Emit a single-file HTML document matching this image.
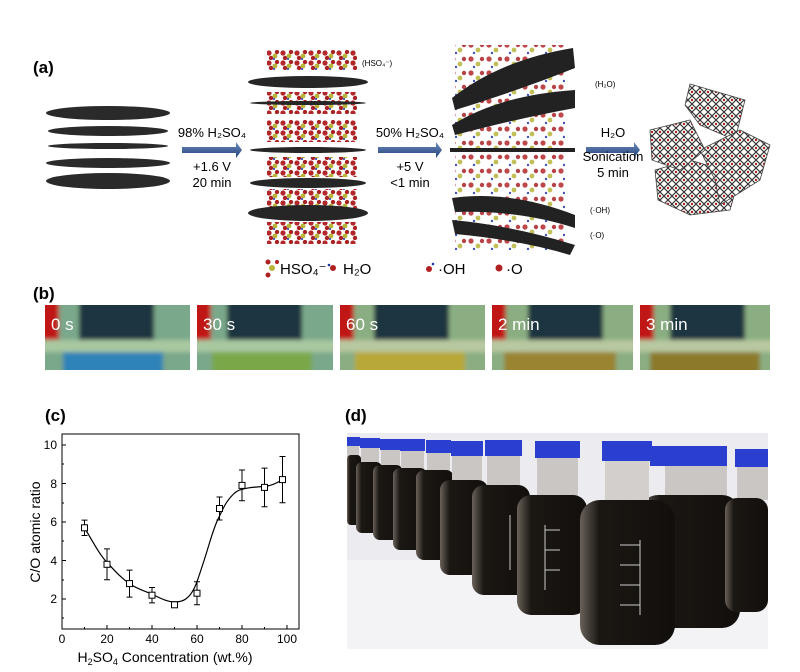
<!DOCTYPE html>
<html><head><meta charset="utf-8"><style>
body{margin:0;background:#fff;}
svg{display:block;font-family:"Liberation Sans",Arial,sans-serif;}
</style></head><body>
<svg width="800" height="672" viewBox="0 0 800 672" xmlns="http://www.w3.org/2000/svg">
<defs>
<pattern id="mol" width="14" height="10" patternUnits="userSpaceOnUse">
<circle cx="3" cy="3" r="2.6" fill="#b3262a"/><circle cx="9" cy="6" r="2.4" fill="#b8b43a"/><circle cx="11" cy="2" r="2.2" fill="#a82226"/><circle cx="5" cy="8" r="2.2" fill="#a82226"/><circle cx="8" cy="9" r="1" fill="#2233aa"/>
</pattern>
<pattern id="mol2" width="18" height="14" patternUnits="userSpaceOnUse">
<circle cx="3" cy="3" r="2.6" fill="#b3262a"/><circle cx="10" cy="8" r="2.4" fill="#b8b43a"/><circle cx="14" cy="3" r="2.2" fill="#a82226"/><circle cx="6" cy="11" r="1.2" fill="#2233aa"/>
</pattern>
<pattern id="hex" width="8" height="8" patternUnits="userSpaceOnUse">
<rect width="8" height="8" fill="#fff"/><path d="M0 4 L4 0 L8 4 L4 8Z" fill="none" stroke="#333" stroke-width="1.2"/><circle cx="4" cy="4" r="1.2" fill="#b02020"/>
</pattern>
<linearGradient id="arr" x1="0" y1="0" x2="0" y2="1"><stop offset="0" stop-color="#6f8fc0"/><stop offset="1" stop-color="#1f3f78"/></linearGradient>
<filter id="blur"><feGaussianBlur stdDeviation="2"/></filter>
<linearGradient id="glass" x1="0" y1="0" x2="1" y2="0"><stop offset="0" stop-color="#6a625a"/><stop offset="0.2" stop-color="#1b1713"/><stop offset="1" stop-color="#120f0c"/></linearGradient>
</defs>

<!-- (a) -->
<text x="33" y="73" font-size="17" font-weight="bold">(a)</text>
<g fill="#2a2a2a">
<ellipse cx="108" cy="113" rx="62" ry="7"/>
<ellipse cx="108" cy="131" rx="60" ry="5"/>
<ellipse cx="108" cy="146" rx="60" ry="3"/>
<ellipse cx="108" cy="163" rx="62" ry="5"/>
<ellipse cx="108" cy="181" rx="62" ry="8"/>
</g>
<path d="M182 147 H236 V142 L242 150 L236 158 V153 H182Z" fill="url(#arr)"/>
<text x="212" y="137" font-size="13" text-anchor="middle">98% H₂SO₄</text>
<text x="212" y="171" font-size="13" text-anchor="middle">+1.6 V</text>
<text x="212" y="187" font-size="13" text-anchor="middle">20 min</text>
<rect x="267" y="50" width="90" height="20" fill="url(#mol)"/>
<rect x="267" y="92" width="90" height="22" fill="url(#mol)"/>
<rect x="267" y="120" width="90" height="22" fill="url(#mol)"/>
<rect x="267" y="157" width="90" height="20" fill="url(#mol)"/>
<rect x="267" y="189" width="90" height="20" fill="url(#mol)"/>
<rect x="267" y="222" width="90" height="22" fill="url(#mol)"/>
<g fill="#262626">
<ellipse cx="308" cy="82" rx="60" ry="6"/>
<ellipse cx="308" cy="103" rx="58" ry="2"/>
<ellipse cx="308" cy="150" rx="58" ry="3"/>
<ellipse cx="308" cy="183" rx="58" ry="5"/>
<ellipse cx="308" cy="213" rx="60" ry="8"/>
</g>
<text x="362" y="66" font-size="8">(HSO₄⁻)</text>
<path d="M378 147 H436 V142 L442 150 L436 158 V153 H378Z" fill="url(#arr)"/>
<text x="410" y="137" font-size="13" text-anchor="middle">50% H₂SO₄</text>
<text x="410" y="171" font-size="13" text-anchor="middle">+5 V</text>
<text x="410" y="187" font-size="13" text-anchor="middle">&lt;1 min</text>
<rect x="455" y="45" width="110" height="205" fill="url(#mol2)" opacity="0.85"/>
<g fill="#222">
<path d="M452 98 Q500 60 573 48 L575 68 Q520 90 455 110Z"/>
<path d="M452 125 Q500 95 575 90 L575 108 Q520 118 455 135Z"/>
<rect x="450" y="148" width="125" height="4"/>
<path d="M452 198 Q510 190 575 215 L575 228 Q520 210 455 212Z"/>
<path d="M452 220 Q510 225 575 245 L570 255 Q520 240 455 234Z"/>
</g>
<text x="595" y="87" font-size="8">(H₂O)</text>
<text x="590" y="213" font-size="8">(·OH)</text>
<text x="590" y="238" font-size="8">(·O)</text>
<path d="M586 147 H634 V142 L640 150 L634 158 V153 H586Z" fill="url(#arr)"/>
<text x="613" y="137" font-size="13" text-anchor="middle">H₂O</text>
<text x="613" y="161" font-size="13" text-anchor="middle">Sonication</text>
<text x="613" y="177" font-size="13" text-anchor="middle">5 min</text>
<g fill="url(#hex)" stroke="#444" stroke-width="0.8">
<path d="M690 84 L745 100 L735 140 L700 125 L685 105Z"/>
<path d="M655 170 L690 160 L740 175 L730 210 L690 215 L658 200Z"/>
<path d="M700 150 L740 130 L770 145 L760 180 L720 205 L715 180Z"/>
<path d="M650 130 L690 120 L705 150 L680 170 L652 160Z"/>
</g>
<circle cx="272" cy="268" r="3" fill="#b8b43a"/><circle cx="268" cy="262" r="2.5" fill="#b02020"/><circle cx="268" cy="275" r="2.5" fill="#b02020"/><circle cx="277" cy="262" r="2" fill="#b02020"/>
<text x="280" y="274" font-size="15">HSO₄⁻</text>
<circle cx="333" cy="268" r="3" fill="#b02020"/><circle cx="329" cy="265" r="1.3" fill="#2233aa"/>
<text x="343" y="274" font-size="15">H₂O</text>
<circle cx="429" cy="269" r="3" fill="#b02020"/><circle cx="433" cy="264" r="1.3" fill="#2233aa"/>
<text x="438" y="274" font-size="15">·OH</text>
<circle cx="499" cy="268" r="3.5" fill="#b02020"/>
<text x="506" y="274" font-size="15">·O</text>

<!-- (b) -->
<text x="33" y="299" font-size="17" font-weight="bold">(b)</text>
<g>
<g transform="translate(45,305)"><svg width="145" height="65"><g filter="url(#blur)"><rect x="-5" y="-5" width="155" height="75" fill="#7aa88a"/><rect x="-5" y="-5" width="19" height="43" fill="#c01818"/><rect x="34" y="-5" width="75" height="40" fill="#1f3440"/><rect x="-5" y="35" width="155" height="12" fill="#a8c8a0"/><rect x="18" y="47" width="100" height="25" fill="#2f83b8"/></g></svg><text x="6" y="25" font-size="17" fill="#fff">0 s</text></g>
<g transform="translate(197,305)"><svg width="136" height="65"><g filter="url(#blur)"><rect x="-5" y="-5" width="146" height="75" fill="#7aa88a"/><rect x="-5" y="-5" width="19" height="43" fill="#c01818"/><rect x="30" y="-5" width="75" height="40" fill="#1f3440"/><rect x="-5" y="35" width="146" height="12" fill="#a8c8a0"/><rect x="15" y="47" width="100" height="25" fill="#7aa848"/></g></svg><text x="6" y="25" font-size="17" fill="#fff">30 s</text></g>
<g transform="translate(340,305)"><svg width="145" height="65"><g filter="url(#blur)"><rect x="-5" y="-5" width="155" height="75" fill="#8aae82"/><rect x="-5" y="-5" width="19" height="43" fill="#c01818"/><rect x="34" y="-5" width="75" height="40" fill="#1f3440"/><rect x="-5" y="35" width="155" height="12" fill="#b8c8a0"/><rect x="15" y="47" width="110" height="25" fill="#b8a838"/></g></svg><text x="6" y="25" font-size="17" fill="#fff">60 s</text></g>
<g transform="translate(492,305)"><svg width="141" height="65"><g filter="url(#blur)"><rect x="-5" y="-5" width="151" height="75" fill="#8aae82"/><rect x="-5" y="-5" width="19" height="43" fill="#c01818"/><rect x="36" y="-5" width="75" height="40" fill="#1f3440"/><rect x="-5" y="35" width="151" height="12" fill="#b8c8a0"/><rect x="12" y="47" width="112" height="25" fill="#9a8430"/></g></svg><text x="6" y="25" font-size="17" fill="#fff">2 min</text></g>
<g transform="translate(640,305)"><svg width="130" height="65"><g filter="url(#blur)"><rect x="-5" y="-5" width="140" height="75" fill="#8aae82"/><rect x="-5" y="-5" width="19" height="43" fill="#c01818"/><rect x="30" y="-5" width="75" height="40" fill="#1f3440"/><rect x="-5" y="35" width="140" height="12" fill="#b8c8a0"/><rect x="10" y="47" width="110" height="25" fill="#8c7a2c"/></g></svg><text x="6" y="25" font-size="17" fill="#fff">3 min</text></g>
</g>

<!-- (c) -->
<text x="45" y="421" font-size="17" font-weight="bold">(c)</text>
<rect x="62" y="434" width="237" height="195" fill="none" stroke="#000" stroke-width="1"/>
<g stroke="#000" stroke-width="1">
<line x1="62" y1="629" x2="62" y2="625"/><line x1="107" y1="629" x2="107" y2="625"/><line x1="152" y1="629" x2="152" y2="625"/><line x1="197" y1="629" x2="197" y2="625"/><line x1="242" y1="629" x2="242" y2="625"/><line x1="287" y1="629" x2="287" y2="625"/>
<line x1="84.5" y1="629" x2="84.5" y2="627"/><line x1="129.5" y1="629" x2="129.5" y2="627"/><line x1="174.5" y1="629" x2="174.5" y2="627"/><line x1="219.5" y1="629" x2="219.5" y2="627"/><line x1="264.5" y1="629" x2="264.5" y2="627"/>
<line x1="62" y1="599" x2="66" y2="599"/><line x1="62" y1="560.5" x2="66" y2="560.5"/><line x1="62" y1="522" x2="66" y2="522"/><line x1="62" y1="483.5" x2="66" y2="483.5"/><line x1="62" y1="445" x2="66" y2="445"/>
<line x1="62" y1="618" x2="64" y2="618"/><line x1="62" y1="580" x2="64" y2="580"/><line x1="62" y1="541" x2="64" y2="541"/><line x1="62" y1="503" x2="64" y2="503"/><line x1="62" y1="464" x2="64" y2="464"/>
</g>
<g font-size="12" text-anchor="middle">
<text x="62" y="643">0</text><text x="107" y="643">20</text><text x="152" y="643">40</text><text x="197" y="643">60</text><text x="242" y="643">80</text><text x="287" y="643">100</text>
</g>
<g font-size="12" text-anchor="end">
<text x="57" y="603">2</text><text x="57" y="565">4</text><text x="57" y="526">6</text><text x="57" y="488">8</text><text x="57" y="449">10</text>
</g>
<text x="165" y="662" font-size="14" text-anchor="middle">H<tspan font-size="9" dy="3">2</tspan><tspan dy="-3">SO</tspan><tspan font-size="9" dy="3">4</tspan><tspan dy="-3"> Concentration (wt.%)</tspan></text>
<text transform="translate(40,532) rotate(-90)" font-size="14" text-anchor="middle">C/O atomic ratio</text>
<path d="M84.5 527.8 C92 540 99 554 107 562.4 C114 570 121 578 129.5 583.6 C137 589 145 591 152 594.2 C160 598 167 602 174.5 601.9 C180 602 183 601 185.75 599 C190 596 194 590 197 581.7 C201 570 205 558 208.25 547 C212 535 215 524 219.5 516.2 C223 508 227 501 230.75 497 C234 493 238 490 242 489.3 C250 487 257 487 264.5 486.4 C271 486 277 483 282.5 479.6" fill="none" stroke="#000" stroke-width="1.2"/>
<g stroke="#000" stroke-width="1" fill="none">
<path d="M84.5 520.1V535.5M81.5 520.1h6M81.5 535.5h6"/>
<path d="M107 548.9V579.7M104 548.9h6M104 579.7h6"/>
<path d="M129.5 570.1V597.1M126.5 570.1h6M126.5 597.1h6"/>
<path d="M152 587.5V602.9M149 587.5h6M149 602.9h6"/>
<path d="M174.5 602.8V606.8M171.5 606.8h6"/>
<path d="M197 581.7V604.7M194 581.7h6M194 604.7h6"/>
<path d="M219.5 497V520M216.5 497h6M216.5 520h6"/>
<path d="M242 470V500.8M239 470h6M239 500.8h6"/>
<path d="M264.5 468.1V506.7M261.5 468.1h6M261.5 506.7h6"/>
<path d="M282.5 456.5V502.7M279.5 456.5h6M279.5 502.7h6"/>
</g>
<g stroke="#000" stroke-width="1" fill="#fff">
<rect x="81.5" y="524.8" width="6" height="6"/><rect x="104" y="561.3" width="6" height="6"/><rect x="126.5" y="580.6" width="6" height="6"/><rect x="149" y="592.2" width="6" height="6"/><rect x="171.5" y="601.8" width="6" height="6"/><rect x="194" y="590.2" width="6" height="6"/><rect x="216.5" y="505.5" width="6" height="6"/><rect x="239" y="482.4" width="6" height="6"/><rect x="261.5" y="484.4" width="6" height="6"/><rect x="279.5" y="476.6" width="6" height="6"/>
</g>

<!-- (d) -->
<text x="345" y="421" font-size="17" font-weight="bold">(d)</text>
<rect x="347" y="433" width="421" height="216" fill="#ecebef"/>
<rect x="347" y="560" width="421" height="89" fill="#f3f3f6"/>
<g>
<g><rect x="347" y="445" width="12" height="12" fill="#c9c6c4"/><rect x="347" y="437" width="13" height="9" fill="#2a3ed0"/><rect x="347" y="455" width="14" height="70" rx="4" fill="url(#glass)"/></g>
<g><rect x="361" y="447" width="18" height="16" fill="#c9c6c4"/><rect x="360" y="438" width="20" height="10" fill="#2a3ed0"/><rect x="356" y="462" width="26" height="71" rx="6" fill="url(#glass)"/></g>
<g><rect x="381" y="449" width="19" height="18" fill="#c9c6c4"/><rect x="380" y="439" width="21" height="11" fill="#2a3ed0"/><rect x="373" y="465" width="30" height="75" rx="7" fill="url(#glass)"/></g>
<g><rect x="401" y="450" width="23" height="20" fill="#c9c6c4"/><rect x="400" y="439" width="25" height="12" fill="#2a3ed0"/><rect x="393" y="468" width="34" height="82" rx="7" fill="url(#glass)"/></g>
<g><rect x="427" y="452" width="23" height="20" fill="#c9c6c4"/><rect x="426" y="440" width="25" height="13" fill="#2a3ed0"/><rect x="416" y="470" width="38" height="90" rx="8" fill="url(#glass)"/></g>
<g><rect x="452" y="455" width="30" height="27" fill="#c9c6c4"/><rect x="451" y="441" width="32" height="15" fill="#2a3ed0"/><rect x="440" y="480" width="48" height="95" rx="10" fill="url(#glass)"/></g>
<g><rect x="487" y="455" width="33" height="32" fill="#c9c6c4"/><rect x="485" y="440" width="37" height="16" fill="#2a3ed0"/><rect x="472" y="485" width="58" height="110" rx="12" fill="url(#glass)"/></g>
<g><rect x="537" y="457" width="41" height="40" fill="#c9c6c4"/><rect x="535" y="441" width="45" height="17" fill="#2a3ed0"/><rect x="517" y="495" width="70" height="120" rx="14" fill="url(#glass)"/></g>
<g><rect x="665" y="465" width="62" height="32" fill="#c9c6c4"/><rect x="650" y="446" width="77" height="20" fill="#2a3ed0"/><rect x="640" y="495" width="100" height="133" rx="18" fill="url(#glass)"/></g>
<g><rect x="737" y="466" width="31" height="34" fill="#c9c6c4"/><rect x="735" y="449" width="33" height="18" fill="#2a3ed0"/><rect x="725" y="498" width="43" height="114" rx="12" fill="url(#glass)"/></g>
<g><rect x="605" y="460" width="44" height="42" fill="#d2cfcd"/><rect x="602" y="441" width="50" height="20" fill="#2a3ed0"/><rect x="580" y="500" width="95" height="145" rx="20" fill="url(#glass)"/></g>
<g stroke="#ccc" stroke-width="1" fill="none">
<path d="M510 515V570M545 525V590M640 540V615M620 545h20M620 565h20M620 585h20M620 605h20M560 530h-15M560 550h-15M560 570h-15"/>
</g>
</g>
</svg>
</body></html>
